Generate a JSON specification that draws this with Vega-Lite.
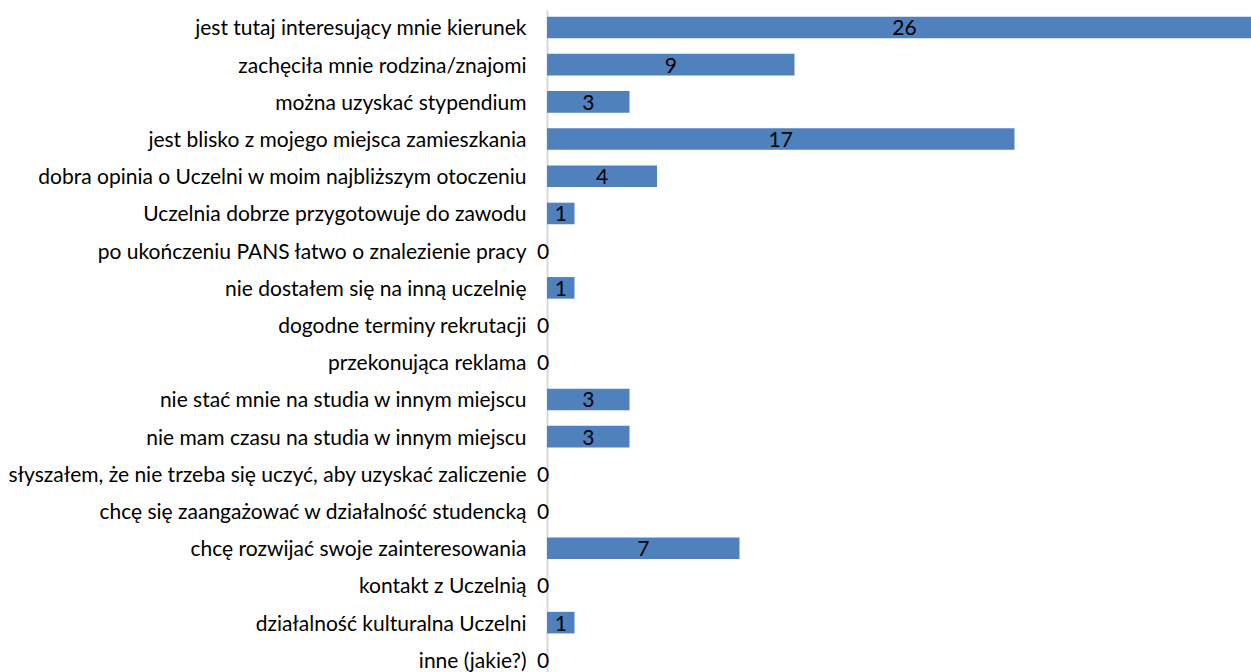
{
  "$schema": "https://vega.github.io/schema/vega-lite/v6.json",
  "width": 704,
  "height": 662,
  "autosize": {"type": "none"},
  "padding": {"left": 547, "top": 10, "right": 0, "bottom": 0},
  "background": "white",
  "config": {"view": {"stroke": null}, "font": "Lato"},
  "data": {
    "values": [
      {"reason": "jest tutaj interesujący mnie kierunek", "count": 26},
      {"reason": "zachęciła mnie rodzina/znajomi", "count": 9},
      {"reason": "można uzyskać stypendium", "count": 3},
      {"reason": "jest blisko z mojego miejsca zamieszkania", "count": 17},
      {"reason": "dobra opinia o Uczelni w moim najbliższym otoczeniu", "count": 4},
      {"reason": "Uczelnia dobrze przygotowuje do zawodu", "count": 1},
      {"reason": "po ukończeniu PANS łatwo o znalezienie pracy", "count": 0},
      {"reason": "nie dostałem się na inną uczelnię", "count": 1},
      {"reason": "dogodne terminy rekrutacji", "count": 0},
      {"reason": "przekonująca reklama", "count": 0},
      {"reason": "nie stać mnie na studia w innym miejscu", "count": 3},
      {"reason": "nie mam czasu na studia w innym miejscu", "count": 3},
      {"reason": "słyszałem, że nie trzeba się uczyć, aby uzyskać zaliczenie", "count": 0},
      {"reason": "chcę się zaangażować w działalność studencką", "count": 0},
      {"reason": "chcę rozwijać swoje zainteresowania\u00a0\u00a0", "count": 7},
      {"reason": "kontakt z Uczelnią", "count": 0},
      {"reason": "działalność kulturalna Uczelni", "count": 1},
      {"reason": "inne (jakie?)", "count": 0}
    ]
  },
  "transform": [{"calculate": "datum.count / 2", "as": "mid"}],
  "encoding": {
    "y": {
      "field": "reason",
      "type": "nominal",
      "sort": null,
      "title": null,
      "scale": {"paddingInner": 0.42, "paddingOuter": 0.108, "align": 0.83},
      "axis": {
        "ticks": false,
        "labelPadding": 21,
        "labelFontSize": 21,
        "labelColor": "#000000",
        "labelFont": "Lato",
        "labelOffset": 2,
        "domainColor": "#d9d9d9",
        "domainWidth": 2,
        "labelLimit": 700
      }
    }
  },
  "layer": [
    {
      "mark": {"type": "bar", "color": "#4f81bd", "clip": true},
      "encoding": {
        "x": {
          "field": "count",
          "type": "quantitative",
          "scale": {"domain": [0, 25.6], "nice": false},
          "axis": null
        }
      }
    },
    {
      "transform": [{"filter": "datum.count > 0"}],
      "mark": {"type": "text", "fontSize": 21, "color": "#000000", "align": "center", "baseline": "middle", "dy": 2},
      "encoding": {
        "x": {"field": "mid", "type": "quantitative"},
        "text": {"field": "count", "type": "quantitative"}
      }
    },
    {
      "transform": [{"filter": "datum.count == 0"}],
      "mark": {"type": "text", "fontSize": 21, "color": "#000000", "align": "center", "baseline": "middle", "dy": 2, "dx": -4},
      "encoding": {
        "x": {"field": "mid", "type": "quantitative"},
        "text": {"field": "count", "type": "quantitative"}
      }
    }
  ]
}
